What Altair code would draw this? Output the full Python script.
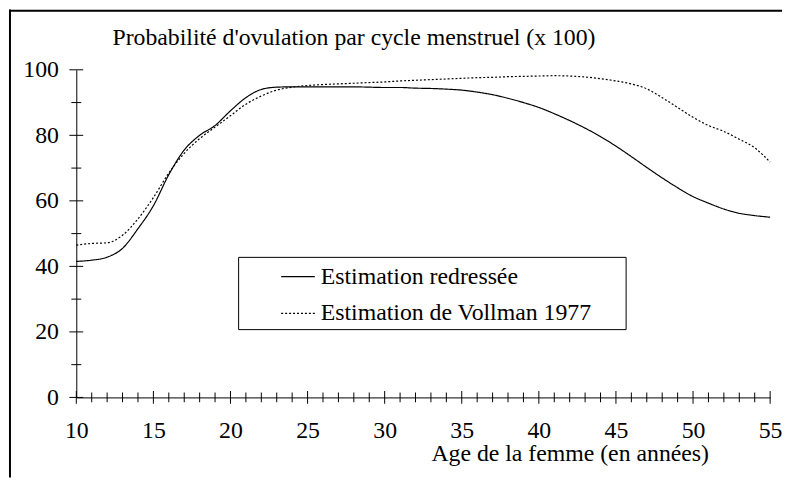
import altair as alt
import pandas as pd

# ---------------- data ----------------
ages = list(range(10, 56))

redressee = [41.5, 41.9, 42.8, 45.5, 51.5, 58.5, 68.0, 75.5, 80.0, 83.0,
             87.5, 91.5, 94.0, 94.7, 94.8, 94.8, 94.8, 94.8, 94.8, 94.7,
             94.6, 94.6, 94.4, 94.3, 94.1, 93.8, 93.2, 92.4, 91.3, 90.0,
             88.5, 86.6, 84.5, 82.2, 79.6, 76.7, 73.5, 70.2, 67.0, 64.0,
             61.3, 59.3, 57.5, 56.2, 55.5, 55.0]

vollman = [46.5, 47.0, 47.2, 49.5, 54.5, 61.0, 68.5, 74.5, 79.0, 82.5,
           86.0, 89.5, 92.0, 93.8, 94.7, 95.2, 95.5, 95.7, 95.9, 96.1,
           96.3, 96.6, 96.8, 97.0, 97.2, 97.4, 97.6, 97.7, 97.9, 98.0,
           98.1, 98.2, 98.1, 97.8, 97.3, 96.6, 95.7, 94.2, 91.5, 88.5,
           85.5, 83.0, 81.2, 78.8, 76.2, 71.8]

series_names = ["Estimation redressée", "Estimation de Vollman 1977"]

x_label_values = [10, 15, 20, 25, 30, 35, 40, 45, 50, 55]
y_label_values = [0, 20, 40, 60, 80, 100]
x_minor_values = [v for v in range(10, 56) if v % 5 != 0]
y_minor_values = [10, 30, 50, 70, 90]

x_title = "Age de la femme (en années)"
y_title = "Probabilité d'ovulation par cycle menstruel (x 100)"

# ---------------- layout ----------------
FONT = "Liberation Serif"
FS = 24
W, H = 701, 331
PAD = {"left": 69, "top": 60, "right": 12, "bottom": 81}

df = pd.DataFrame({
    "age": ages + ages,
    "value": redressee + vollman,
    "series": [series_names[0]] * len(ages) + [series_names[1]] * len(ages),
})

xscale = alt.Scale(domain=[10, 55], nice=False, zero=False)
yscale = alt.Scale(domain=[0, 100], nice=False, zero=False)

x_axis = alt.Axis(
    values=x_label_values, ticks=False, grid=False,
    domain=True, domainColor="black", domainWidth=1,
    labelPadding=41, labelBaseline="alphabetic", labelFlush=False,
    labelFont=FONT, labelFontSize=FS, labelColor="black",
    title=x_title, titleX=498.5, titleY=64, titleAlign="center",
    titleBaseline="alphabetic", titleFont=FONT, titleFontSize=FS,
    titleFontWeight="normal", titleColor="black")

y_axis = alt.Axis(
    values=y_label_values, ticks=False, grid=False,
    domain=True, domainColor="black", domainWidth=1,
    labelPadding=18, labelAlign="right", labelBaseline="middle",
    labelFlush=False,
    labelFont=FONT, labelFontSize=FS, labelColor="black",
    title=y_title, titleAngle=0, titleX=36, titleY=-26,
    titleAlign="left", titleBaseline="alphabetic", titleFont=FONT,
    titleFontSize=FS, titleFontWeight="normal", titleColor="black")

lines = alt.Chart(df).mark_line(color="black", strokeWidth=1.2,
                                interpolate="monotone").encode(
    x=alt.X("age:Q", scale=xscale, axis=x_axis),
    y=alt.Y("value:Q", scale=yscale, axis=y_axis),
    strokeDash=alt.StrokeDash("series:N", scale=alt.Scale(
        domain=series_names, range=[[1, 0], [2, 2]]),
        legend=alt.Legend(
            orient="none", legendX=206, legendY=197, title=None, padding=0,
            symbolType="stroke", symbolSize=1156, symbolStrokeWidth=1.2,
            symbolStrokeColor="black", labelFont=FONT, labelFontSize=FS,
            labelColor="black", labelOffset=5, labelLimit=400,
            clipHeight=24, rowPadding=13)),
)

# crossing axis ticks
y_major = pd.DataFrame({"age": [10] * len(y_label_values), "value": y_label_values})
y_minor = pd.DataFrame({"age": [10] * len(y_minor_values), "value": y_minor_values})
x_major = pd.DataFrame({"age": x_label_values, "value": [0] * len(x_label_values)})
x_minor = pd.DataFrame({"age": x_minor_values, "value": [0] * len(x_minor_values)})


def ticks(data, orient, size):
    return alt.Chart(data).mark_tick(orient=orient, size=size, thickness=1,
                                     color="black", opacity=1).encode(
        x=alt.X("age:Q", scale=xscale, axis=x_axis),
        y=alt.Y("value:Q", scale=yscale, axis=y_axis),
    )


tick_layers = [
    ticks(y_major, "horizontal", 14),
    ticks(y_minor, "horizontal", 10),
    ticks(x_major, "vertical", 13),
    ticks(x_minor, "vertical", 10),
]

one = alt.Data(values=[{"k": 0}])

# legend frame
legend_box = alt.Chart(one).mark_rect(fill="white", fillOpacity=0,
                                      stroke="black", strokeWidth=1).encode(
    x=alt.value(164), x2=alt.value(555.5), y=alt.value(189.5), y2=alt.value(262.5))

# outer chart frame (left and top edges visible)
frame_left = alt.Chart(one).mark_rule(color="black", strokeWidth=2).encode(
    x=alt.value(-67), y=alt.value(-61), y2=alt.value(H + PAD["bottom"]))
frame_top = alt.Chart(one).mark_rule(color="black", strokeWidth=2).encode(
    x=alt.value(-68), x2=alt.value(W + PAD["right"] + 5), y=alt.value(-59.75))

chart = alt.layer(
    lines, *tick_layers, legend_box, frame_left, frame_top
).properties(
    width=W, height=H, padding=PAD,
    autosize=alt.AutoSizeParams(type="none"),
    background="white",
).configure_view(strokeWidth=0)

chart.save("out.html", embed_options={"renderer": "svg", "actions": False})
